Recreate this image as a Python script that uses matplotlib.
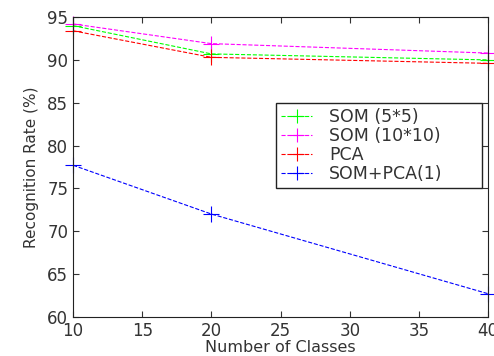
import matplotlib.pyplot as plt
import numpy as np

plt.rcParams['font.family'] = ['DejaVu Sans']

# Values
classes = [10, 20, 40]
som_5x5 = [94.0, 90.7, 90.0]
som_10x10 = [94.2, 91.9, 90.8]
pca = [93.4, 90.3, 89.6]
som_pca = [77.7, 72.0, 62.7]

fig = plt.figure(figsize=(4.94, 3.56), dpi=100)
ax = fig.add_axes([0.148, 0.11, 0.84, 0.842])

style = dict(lw=0.8, ms=12, mew=0.8, clip_on=False)
ax.plot(classes, som_5x5, '--+', color='#00ff00', label='SOM (5*5)', **style)
ax.plot(classes, som_10x10, '--+', color='#ff00ff', label='SOM (10*10)', **style)
ax.plot(classes, pca, '--+', color='#ff0000', label='PCA', **style)
ax.plot(classes, som_pca, '--+', color='#0000ff', label='SOM+PCA(1)', **style)

ax.set_xlim(10, 40)
ax.set_ylim(60, 95)
ax.set_xticks(np.arange(10, 41, 5))
ax.set_yticks(np.arange(60, 96, 5))
ax.tick_params(direction='in', top=True, right=True, labelsize=12, length=4,
               width=0.8, colors='#333333', labelcolor='#333333')
for s in ax.spines.values():
    s.set_linewidth(0.8)
    s.set_color('#222222')

ax.set_xlabel('Number of Classes', fontsize=11.5, labelpad=0, color='#333333')
ax.set_ylabel('Recognition Rate (%)', fontsize=11, labelpad=6, color='#333333')

leg = ax.legend(loc='upper left', bbox_to_anchor=(0.489, 0.447, 0.496, 0.266),
                mode='expand', fontsize=12.5, frameon=True,
                fancybox=False, edgecolor='#222222', handlelength=1.8, borderpad=0.3,
                labelspacing=0.05, handletextpad=0.95, framealpha=1, borderaxespad=0)
for h in leg.legend_handles:
    h.set_markersize(10)
for t in leg.get_texts():
    t.set_color('#333333')

fig.savefig('out.png', dpi=100)
